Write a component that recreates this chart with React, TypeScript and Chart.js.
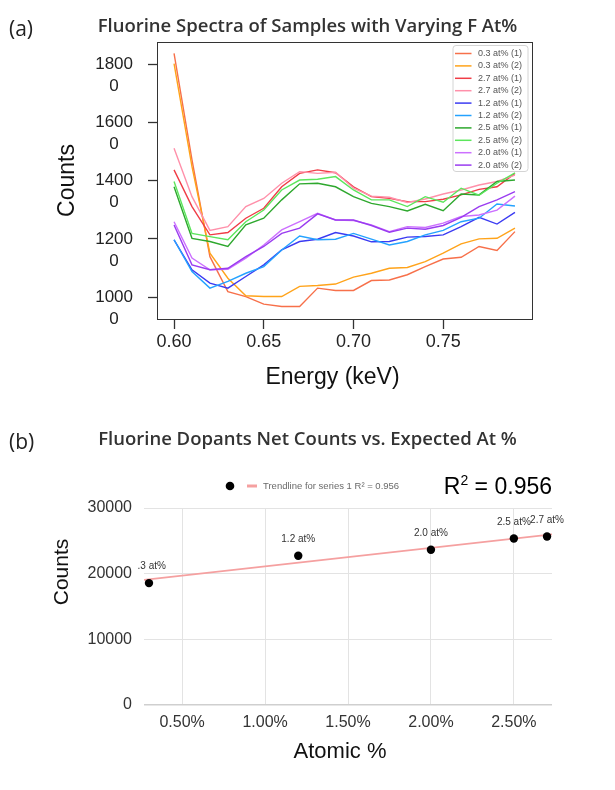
import React, { useEffect, useRef } from 'react';
import { Chart, registerables } from 'chart.js';

Chart.register(...registerables);

// ---------- Chart (a): fluorine spectra ----------
const ENERGY = [0.60, 0.61, 0.62, 0.63, 0.64, 0.65, 0.66, 0.67, 0.68, 0.69, 0.70, 0.71, 0.72, 0.73, 0.74, 0.75, 0.76, 0.77, 0.78, 0.79];

const S03_1 = [18370, 14710, 11390, 10190, 10020, 9760, 9680, 9680, 10310, 10230, 10230, 10570, 10590, 10770, 11050, 11310, 11370, 11740, 11600, 12250];
const S03_2 = [18020, 14480, 11510, 10650, 10050, 10020, 10020, 10370, 10400, 10450, 10690, 10820, 10990, 11020, 11220, 11510, 11830, 12000, 12020, 12370];
const S27_1 = [14370, 13110, 12140, 12220, 12710, 13050, 13790, 14250, 14370, 14270, 13790, 13450, 13390, 13280, 13280, 13360, 13510, 13700, 13790, 14250];
const S27_2 = [15110, 13450, 12290, 12420, 13110, 13390, 13910, 14310, 14250, 14290, 13740, 13470, 13430, 13250, 13370, 13540, 13680, 13850, 13970, 14190];
const S12_1 = [11970, 10940, 10480, 10310, 10710, 11110, 11620, 11910, 11990, 12220, 12100, 11900, 11910, 12060, 12080, 12140, 12420, 12740, 12510, 12910];
const S12_2 = [11970, 10880, 10310, 10540, 10820, 11050, 11620, 12100, 11970, 11990, 12190, 11990, 11790, 11910, 12140, 12290, 12590, 12710, 13200, 13130];
const S25_1 = [13790, 12020, 11910, 11740, 12480, 12710, 13340, 13890, 13910, 13790, 13450, 13220, 13110, 12960, 13190, 12970, 13540, 13510, 13970, 14020];
const S25_2 = [13970, 12190, 12080, 11970, 12590, 12990, 13680, 14020, 14050, 14140, 13680, 13340, 13340, 13110, 13450, 13260, 13740, 13500, 13910, 14270];
const S20_1 = [12590, 11340, 10940, 10960, 11340, 11790, 12310, 12590, 12880, 12650, 12630, 12480, 12250, 12420, 12390, 12540, 12770, 12820, 12990, 13470];
const S20_2 = [12480, 11110, 10940, 10990, 11390, 11740, 12190, 12370, 12860, 12650, 12650, 12460, 12230, 12370, 12330, 12460, 12740, 13110, 13340, 13620];

const SERIES = [S03_1, S03_2, S27_1, S27_2, S12_1, S12_2, S25_1, S25_2, S20_1, S20_2];
const SERIES_LABELS = ['0.3 at% (1)', '0.3 at% (2)', '2.7 at% (1)', '2.7 at% (2)', '1.2 at% (1)', '1.2 at% (2)', '2.5 at% (1)', '2.5 at% (2)', '2.0 at% (1)', '2.0 at% (2)'];
const SERIES_COLORS = ['#f7704a', '#ffa31a', '#f03c46', '#ff90aa', '#3b3bf2', '#24a2ff', '#2ea82e', '#5ce65c', '#cc70ff', '#9a3cf0'];

const X_TICKS_A = [0.60, 0.65, 0.70, 0.75];
const Y_TICKS_A = [10000, 12000, 14000, 16000, 18000];

// ---------- Chart (b): net counts vs at% ----------
const AT_PCT = [0.3, 1.2, 2.0, 2.5, 2.7];
const NET_COUNTS = [18560, 22720, 23640, 25360, 25670];
const POINT_LABELS = ['0.3 at%', '1.2 at%', '2.0 at%', '2.5 at%', '2.7 at%'];
const X_TICKS_B = [0.5, 1.0, 1.5, 2.0, 2.5];
const Y_TICKS_B = [0, 10000, 20000, 30000];
const R2_TEXT = '0.956';

const SANS = '"Liberation Sans", Arial, sans-serif';
const OPEN = '"Open Sans", "Noto Sans", sans-serif';

const X_MIN_B = 0.27;
const X_MAX_B = 2.73;

function trendline() {
  const n = AT_PCT.length;
  const mx = AT_PCT.reduce((a, b) => a + b, 0) / n;
  const my = NET_COUNTS.reduce((a, b) => a + b, 0) / n;
  let sxy = 0;
  let sxx = 0;
  for (let i = 0; i < n; i++) {
    sxy += (AT_PCT[i] - mx) * (NET_COUNTS[i] - my);
    sxx += (AT_PCT[i] - mx) * (AT_PCT[i] - mx);
  }
  const slope = sxy / sxx;
  const icpt = my - slope * mx;
  return [
    { x: X_MIN_B, y: icpt + slope * X_MIN_B },
    { x: X_MAX_B, y: icpt + slope * X_MAX_B },
  ];
}

const frameLegendA = {
  id: 'frameLegendA',
  afterDatasetsDraw(chart: any) {
    const { ctx, chartArea } = chart;
    const { left, right, top, bottom } = chartArea;
    ctx.save();
    ctx.strokeStyle = '#333';
    ctx.lineWidth = 1;
    ctx.strokeRect(Math.round(left) + 0.5, Math.round(top) + 0.5, Math.round(right - left), Math.round(bottom - top));

    // legend box
    const bx = right - 79.5;
    const by = top + 3;
    const bw = 75;
    const bh = 126;
    ctx.beginPath();
    ctx.roundRect(bx + 0.5, by + 0.5, bw, bh, 3);
    ctx.fillStyle = 'rgba(255,255,255,0.85)';
    ctx.fill();
    ctx.strokeStyle = '#d4d4d4';
    ctx.lineWidth = 1;
    ctx.stroke();
    ctx.font = `9px ${SANS}`;
    ctx.textBaseline = 'middle';
    ctx.textAlign = 'left';
    chart.data.datasets.forEach((ds: any, i: number) => {
      const y = by + 8.5 + i * 12.4;
      ctx.beginPath();
      ctx.moveTo(bx + 2.5, y);
      ctx.lineTo(bx + 19, y);
      ctx.strokeStyle = ds.borderColor;
      ctx.lineWidth = 1.5;
      ctx.stroke();
      ctx.fillStyle = '#555';
      ctx.fillText(ds.label, bx + 25.5, y);
    });
    ctx.restore();
  },
  afterDraw(chart: any) {
    const { ctx, chartArea } = chart;
    const { left, right, top, bottom } = chartArea;
    ctx.save();
    ctx.fillStyle = '#111';
    ctx.font = `23px ${SANS}`;
    ctx.textAlign = 'center';
    ctx.textBaseline = 'middle';
    ctx.fillText('Energy (keV)', (left + right) / 2 - 12, bottom + 59);
    ctx.translate(left - 89, (top + bottom) / 2);
    ctx.rotate(-Math.PI / 2);
    ctx.fillText('Counts', 0, 0);
    ctx.restore();
  },
};

const decorB = {
  id: 'decorB',
  afterDatasetsDraw(chart: any) {
    const { ctx, chartArea } = chart;
    const { left, right, top, bottom } = chartArea;
    const meta = chart.getDatasetMeta(0);
    ctx.save();
    ctx.beginPath();
    ctx.rect(left - 6, 0, chart.width, chart.height);
    ctx.clip();
    ctx.font = `10px ${SANS}`;
    ctx.fillStyle = '#333';
    ctx.textAlign = 'center';
    ctx.textBaseline = 'middle';
    meta.data.forEach((pt: any, i: number) => {
      ctx.fillText(POINT_LABELS[i], pt.x, pt.y - 16.5);
    });
    ctx.restore();

    ctx.save();
    // legend
    const ly = top - 22;
    ctx.beginPath();
    ctx.arc(left + 86, ly, 4.3, 0, Math.PI * 2);
    ctx.fillStyle = '#000';
    ctx.fill();
    ctx.beginPath();
    ctx.moveTo(left + 103, ly);
    ctx.lineTo(left + 113, ly);
    ctx.strokeStyle = chart.data.datasets[1].borderColor;
    ctx.lineWidth = 3;
    ctx.stroke();
    ctx.font = `9.5px ${SANS}`;
    ctx.fillStyle = '#6a6a6a';
    ctx.textAlign = 'left';
    ctx.textBaseline = 'middle';
    ctx.fillText(chart.data.datasets[1].label, left + 119, ly);

    // R^2 annotation
    const big = `23px ${SANS}`;
    const small = `14px ${SANS}`;
    ctx.fillStyle = '#000';
    ctx.font = big;
    const wR = ctx.measureText('R').width;
    const wRest = ctx.measureText(` = ${R2_TEXT}`).width;
    ctx.font = small;
    const w2 = ctx.measureText('2').width;
    const total = wR + w2 + wRest;
    let x = right - total;
    const y = top - 20;
    ctx.font = big;
    ctx.fillText('R', x, y);
    x += wR;
    ctx.font = small;
    ctx.fillText('2', x, y - 7);
    x += w2;
    ctx.font = big;
    ctx.fillText(` = ${R2_TEXT}`, x, y);

    // axis titles
    ctx.fillStyle = '#111';
    ctx.textAlign = 'center';
    ctx.font = `22px ${SANS}`;
    ctx.fillText('Atomic %', (left + right) / 2 - 8, bottom + 47);
    ctx.font = `21px ${SANS}`;
    ctx.translate(left - 82, top + 64);
    ctx.rotate(-Math.PI / 2);
    ctx.fillText('Counts', 0, 0);
    ctx.restore();
  },
};

export default function App() {
  const refA = useRef<HTMLCanvasElement>(null);
  const refB = useRef<HTMLCanvasElement>(null);

  useEffect(() => {
    const chartA = new Chart(refA.current as HTMLCanvasElement, {
      type: 'line',
      data: {
        datasets: SERIES.map((s, i) => ({
          label: SERIES_LABELS[i],
          data: ENERGY.map((x, j) => ({ x, y: s[j] })),
          borderColor: SERIES_COLORS[i],
          backgroundColor: SERIES_COLORS[i],
          borderWidth: 1.4,
          pointRadius: 0,
          tension: 0,
          fill: false,
          order: SERIES.length - i,
        })),
      },
      options: {
        animation: false,
        responsive: false,
        maintainAspectRatio: false,
        layout: { padding: { top: 42, right: 83, left: 0, bottom: 0 } },
        plugins: { legend: { display: false }, tooltip: { enabled: false }, title: { display: false } },
        scales: {
          x: {
            type: 'linear',
            min: 0.5905,
            max: 0.7995,
            afterBuildTicks: (s: any) => { s.ticks = X_TICKS_A.map((v) => ({ value: v })); },
            afterFit: (s: any) => { s.height = 81; },
            grid: { display: true, drawOnChartArea: false, drawTicks: true, tickLength: 10, tickColor: '#333', tickWidth: 1.3 },
            border: { display: false },
            ticks: {
              callback: (v: any) => Number(v).toFixed(2),
              font: { family: SANS, size: 18 },
              color: '#222',
              padding: 2,
              maxRotation: 0,
              autoSkip: false,
            },
          },
          y: {
            type: 'linear',
            min: 9250,
            max: 18760,
            afterBuildTicks: (s: any) => { s.ticks = Y_TICKS_A.map((v) => ({ value: v })); },
            afterFit: (s: any) => { s.width = 157; },
            grid: { display: true, drawOnChartArea: false, drawTicks: true, tickLength: 9, tickColor: '#333', tickWidth: 1.3 },
            border: { display: false },
            ticks: {
              callback: (v: any) => { const t = String(v); return [t.slice(0, -1), t.slice(-1)]; },
              crossAlign: 'center',
              labelOffset: 11,
              padding: 15,
              font: { family: SANS, size: 17, lineHeight: 22 / 17 },
              color: '#222',
              autoSkip: false,
            },
          },
        },
      } as any,
      plugins: [frameLegendA],
    });

    const chartB = new Chart(refB.current as HTMLCanvasElement, {
      type: 'scatter',
      data: {
        datasets: [
          {
            label: '',
            data: AT_PCT.map((x, i) => ({ x, y: NET_COUNTS[i] })),
            pointRadius: 4.2,
            pointBackgroundColor: '#000',
            pointBorderColor: '#000',
            pointBorderWidth: 0,
            showLine: false,
          },
          {
            label: `Trendline for series 1 R² = ${R2_TEXT}`,
            data: trendline(),
            showLine: true,
            borderColor: '#f5a0a0',
            backgroundColor: '#f5a0a0',
            borderWidth: 1.8,
            pointRadius: 0,
          },
        ],
      },
      options: {
        animation: false,
        responsive: false,
        maintainAspectRatio: false,
        layout: { padding: { top: 108, right: 63, left: 0, bottom: 0 } },
        plugins: { legend: { display: false }, tooltip: { enabled: false }, title: { display: false } },
        scales: {
          x: {
            type: 'linear',
            min: X_MIN_B,
            max: X_MAX_B,
            afterBuildTicks: (s: any) => { s.ticks = X_TICKS_B.map((v) => ({ value: v })); },
            afterFit: (s: any) => { s.height = 85; },
            grid: { color: '#e3e3e3', drawTicks: false, lineWidth: 1 },
            border: { display: false },
            ticks: {
              callback: (v: any) => Number(v).toFixed(2) + '%',
              font: { family: SANS, size: 16 },
              color: '#333',
              padding: 8,
              maxRotation: 0,
              autoSkip: false,
            },
          },
          y: {
            type: 'linear',
            min: 0,
            max: 30000,
            afterBuildTicks: (s: any) => { s.ticks = Y_TICKS_B.map((v) => ({ value: v })); },
            afterFit: (s: any) => { s.width = 144; },
            grid: {
              color: (c: any) => (c.tick && c.tick.value === 0 ? '#cfcfcf' : '#e3e3e3'),
              lineWidth: (c: any) => (c.tick && c.tick.value === 0 ? 1.5 : 1),
              drawTicks: false,
            },
            border: { display: false },
            ticks: {
              callback: (v: any) => String(v),
              font: { family: SANS, size: 16 },
              color: '#333',
              padding: 12,
              autoSkip: false,
            },
          },
        },
      } as any,
      plugins: [decorB],
    });

    return () => {
      chartA.destroy();
      chartB.destroy();
    };
  }, []);

  const label: React.CSSProperties = { position: 'absolute', fontFamily: OPEN, color: '#222', whiteSpace: 'nowrap' };
  const title: React.CSSProperties = { position: 'absolute', left: 0, width: 615, textAlign: 'center', fontFamily: OPEN, fontWeight: 600, fontSize: 18.5, lineHeight: '24px', color: '#333', whiteSpace: 'nowrap' };

  return (
    <div style={{ position: 'absolute', left: 0, top: 0, width: 615, height: 790, background: '#fff' }}>
      <canvas ref={refA} width={615} height={400} style={{ position: 'absolute', left: 0, top: 0 }} />
      <canvas ref={refB} width={615} height={390} style={{ position: 'absolute', left: 0, top: 400 }} />
      <div style={{ ...label, left: 9, top: 15, fontSize: 21, lineHeight: '26px' }}>(a)</div>
      <div style={{ ...title, top: 13 }}>Fluorine Spectra of Samples with Varying F At%</div>
      <div style={{ ...label, left: 9, top: 428, fontSize: 21, lineHeight: '26px' }}>(b)</div>
      <div style={{ ...title, top: 426 }}>Fluorine Dopants Net Counts vs. Expected At %</div>
    </div>
  );
}
